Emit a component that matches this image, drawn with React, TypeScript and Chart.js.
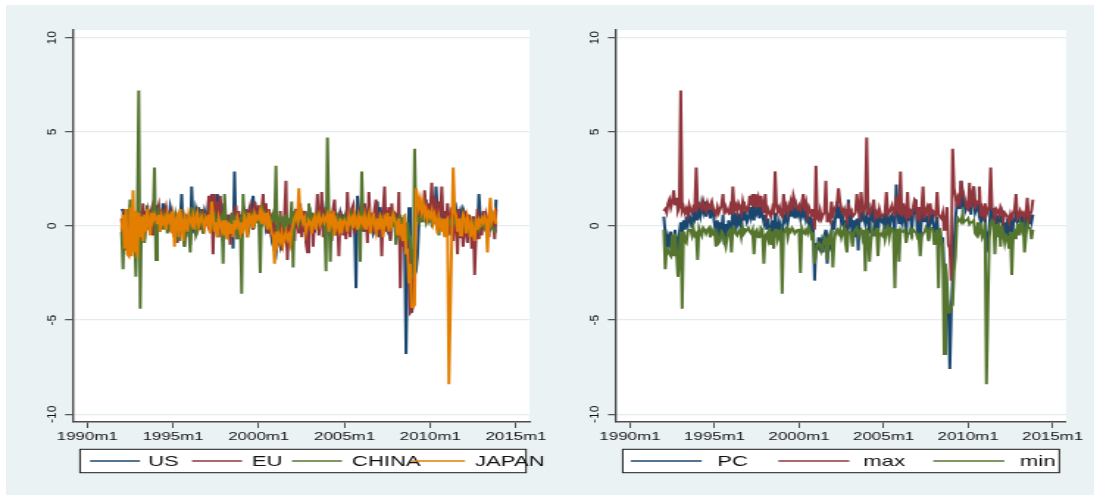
import React, { useEffect, useRef } from "react";
import { Chart, registerables } from "chart.js";

Chart.register(...registerables);

// ---------- data (monthly, first point = 1992m1; x = months since 1990m1) ----------
const FIRST_MONTH = 24;
const X_TICKS = [0, 60, 120, 180, 240, 300];
const X_TICK_LABELS = ["1990m1", "1995m1", "2000m1", "2005m1", "2010m1", "2015m1"];
const Y_TICKS = [-10, -5, 0, 5, 10];
const Y_TICK_LABELS = ["-10", "-5", "0", "5", "10"];
const LEFT_LABELS = ["US", "EU", "CHINA", "JAPAN"];
const RIGHT_LABELS = ["PC", "max", "min"];

const US = [
  0.9, 0.8, -0.6, 0.4, -0.9, 0.7, 0.2, -0.5, 0.8, 0.3, -0.4, 0.6,
  0.5, -0.3, 0.7, 0.2, 0.8, -0.2, 0.4, 0.6, -0.1, 0.9, 0.3, 1.2,
  0.6, 1.1, 0.2, 0.9, 0.4, 1.2, 0.1, 0.7, 0.5, 0.3, 1.0, 0.6,
  -0.3, 0.2, -0.5, 0.4, -0.8, 0.3, 1.7, -0.2, 0.5, -0.6, 0.4, 0.2,
  -1.0, 2.1, 0.3, -0.4, 0.9, 0.6, 1.0, -0.2, 0.7, 0.3, 0.8, 0.5,
  0.2, 1.4, 0.6, 0.1, 0.9, 1.1, 0.4, 1.7, 0.8, 0.5, 1.2, 0.3,
  0.7, 0.1, -0.3, 0.6, -0.6, 0.4, -1.2, 2.9, -0.2, 0.3, -0.5, 0.5,
  0.4, 0.2, 0.6, -0.1, 0.5, 0.8, 0.3, 0.7, 1.6, 0.4, 0.9, 0.5,
  0.2, 0.8, 0.6, 0.3, 0.5, -0.1, 0.2, -0.4, 0.1, -0.6, -0.2, -1.3,
  -1.5, -0.8, -0.6, -1.0, -0.4, -0.9, -0.3, -0.7, -1.1, -0.5, -0.8, -0.2,
  0.4, 0.3, 0.7, 0.5, 0.9, 0.2, 0.6, -0.3, 0.1, 0.4, -0.6, 0.3,
  0.6, -0.2, -0.4, -0.3, 0.1, 0.4, 0.8, 0.3, 0.5, 0.9, 0.2, 0.1,
  0.7, 0.3, -0.2, 0.8, 0.4, 0.9, -0.5, 0.6, 0.2, 0.7, 0.4, 0.5,
  0.2, 0.6, 0.4, -0.1, 0.3, 0.2, 0.8, 0.1, -3.3, 1.6, 0.9, 0.5,
  0.2, 0.4, -0.3, 0.6, -0.1, 0.5, 0.3, 0.2, -0.4, -0.2, 0.4, 1.3,
  -0.6, 1.0, 0.4, 0.2, 0.6, 0.3, -0.1, 0.4, -0.7, 0.5, 0.1, 0.2,
  -0.6, -0.3, -0.4, -1.0, -0.5, -1.1, -0.5, -6.8, -2.0, 1.0, -3.0, -4.6,
  -4.0, -2.6, -2.4, -1.6, 0.1, 0.6, 1.0, 1.2, 0.8, 1.4, 0.3, 0.9,
  0.7, 0.2, 0.9, 0.5, 2.1, 0.8, 0.4, 1.2, 0.3, -0.1, 0.4, 0.6,
  0.2, -0.4, 0.7, -0.3, 0.1, 0.6, 0.9, 0.3, 0.5, 0.8, 0.4, 0.9,
  0.7, -0.2, 0.6, -0.5, 0.3, -0.1, 0.5, -0.7, 0.2, -0.3, 1.7, 0.4,
  0.3, 0.6, 0.5, 0.2, -0.2, 0.4, 0.7, -0.1, 0.5, -0.4, 1.4,
];

const EU = [
  0.4, -0.8, 0.9, -1.3, 0.6, -1.0, 0.3, 1.0, -0.4, 0.7, -1.1, 0.5,
  -0.6, 0.8, -0.3, 1.2, -0.7, 0.4, 1.1, -0.2, 0.6, 0.9, -0.5, 1.0,
  0.3, 0.8, 1.1, 0.2, 0.9, -0.1, 0.7, 1.0, 0.4, -0.3, 0.6, 0.8,
  0.2, -0.6, 0.5, -0.9, 0.3, 0.7, -0.4, 0.1, -1.1, 0.6, -0.3, 0.4,
  -0.7, 0.9, 0.1, 0.6, -0.5, 0.8, -0.2, 0.5, 0.9, -0.4, 0.7, 0.3,
  0.1, 1.6, -0.3, 1.7, -1.5, 1.7, 0.4, 1.3, -0.6, 1.6, 0.2, -0.8,
  0.9, -0.4, 0.6, 0.2, -1.0, 0.7, -0.5, 0.3, 1.1, -0.7, 0.8, -0.2,
  -0.4, 0.5, 0.2, 0.9, -0.3, 0.6, 1.0, 0.4, -0.2, 1.3, 0.7, 0.5,
  1.1, -0.1, 0.8, 1.7, 0.3, 1.2, -0.4, 0.9, 0.5, -0.6, 0.7, -1.2,
  -0.3, 0.4, -0.9, 0.8, -1.3, -0.5, 0.6, 2.4, -1.8, 0.3, -1.0, -0.2,
  0.5, -0.8, 0.9, 0.2, -0.4, 1.2, -0.6, 0.4, 0.8, -0.9, -1.4, 0.6,
  -0.3, 0.7, -1.1, 0.4, 0.2, 1.7, -0.5, 0.3, 1.8, -0.6, 0.5, 1.0,
  -0.2, 0.6, 0.3, -0.8, 0.9, 1.4, -0.3, 0.5, -1.6, 0.8, 0.4, -0.5,
  0.3, -0.7, 1.8, 0.2, -0.6, 0.9, 1.1, -0.4, 0.6, -0.2, 0.8, 0.5,
  0.4, -0.3, 1.2, 0.6, -0.9, 1.8, 0.2, 0.7, -0.4, 0.9, 1.4, 0.3,
  -0.5, 0.6, -1.6, 0.8, 2.1, -0.3, 0.5, 1.0, -0.8, 1.2, 0.4, 0.7,
  0.6, -0.4, 1.8, -3.3, 0.4, -0.6, -1.0, -1.5, -0.8, -1.6, -4.6, -4.5,
  -3.0, -1.8, 1.5, 0.4, 1.0, 0.8, 1.3, 0.2, 1.9, 0.7, 1.2, 0.5,
  0.9, 2.3, 0.4, 1.6, 1.1, -0.2, 1.3, 0.6, 2.1, 0.3, 0.8, -0.4,
  1.2, 0.5, -0.5, 1.0, -0.8, 0.7, 0.3, -1.5, 0.9, -0.6, 0.4, -1.1,
  0.8, -0.3, -0.9, 0.6, 0.2, -1.2, 0.5, -2.6, -0.4, 0.9, -0.7, 0.3,
  -0.5, 0.8, -0.2, 0.6, 0.3, -0.6, 0.9, 0.1, 0.4, -0.7, 0.9,
];

const CHINA = [
  -0.3, -2.3, 0.5, -0.8, 0.9, 0.2, 1.4, -1.0, 0.6, -0.5, -2.7, 0.3,
  7.2, -4.4, 0.6, 0.2, -0.9, 0.4, 0.8, 0.1, -0.3, 0.5, 0.2, 3.1,
  -1.8, 0.4, 0.7, -0.3, 0.5, -0.2, 0.6, 0.4, -0.4, 0.5, 0.3, 0.2,
  0.4, -0.6, 0.6, 0.3, -0.8, 0.5, -0.1, 0.4, -1.1, 0.6, 0.1, -0.2,
  -1.4, 1.0, 0.2, 0.5, -0.5, -0.3, 0.4, 0.6, 0.1, -0.4, 0.5, 0.2,
  0.4, 0.1, 0.5, -0.2, 0.3, 0.6, 0.2, -0.6, 0.4, 0.3, 0.5, -2.0,
  1.7, 0.2, -0.7, 0.1, 0.3, -0.3, 0.5, 0.2, 0.4, -0.7, 0.1, 0.3,
  -3.6, 1.7, 0.3, 0.5, -0.6, -0.2, 0.4, 0.6, 0.3, 0.1, 0.5, 0.2,
  0.4, -2.5, 1.1, 0.3, 0.6, 0.2, 0.5, -0.1, 0.4, 0.3, 0.6, 0.2,
  3.2, -1.0, 0.2, 0.5, 0.3, 0.4, -0.2, 0.6, 0.1, 0.3, 0.2, 1.3,
  -2.2, 0.8, 0.3, 0.5, 0.1, 0.4, 0.6, 0.2, 0.3, 0.5, 0.2, 1.2,
  0.3, 0.5, 0.2, 0.4, 0.6, 0.1, 0.3, 0.5, 0.2, 0.4, 0.3, -2.4,
  4.7, 0.5, -1.9, 0.6, 0.2, 0.4, 0.3, 0.5, 0.1, 0.4, 0.2, 0.3,
  0.5, 0.2, 0.4, 0.3, 0.6, 0.1, 0.4, 0.2, 0.5, 0.3, 0.2, -1.9,
  2.9, 0.3, 0.5, 0.2, 0.4, 0.6, 0.1, 0.3, 0.5, 0.2, 0.4, 0.3,
  0.2, 0.5, 0.3, -0.4, 0.6, 0.2, 0.4, 0.1, 0.3, 0.5, 0.2, 0.4,
  -1.0, 0.3, 0.2, 0.6, -0.3, 0.4, 0.5, -0.8, 0.2, -0.5, -1.2, -1.5,
  -2.6, 4.1, 0.3, 0.4, 0.2, 0.5, 0.3, 0.4, 0.6, 0.2, 0.5, 0.3,
  0.4, 0.1, 0.3, 0.2, 0.4, 0.3, -0.5, 0.2, 0.3, 0.1, 0.2, 0.3,
  0.2, 0.1, 0.3, 0.2, 0.1, 0.3, 0.2, 0.0, 0.1, 0.3, 0.2, 0.1,
  0.0, 0.2, 0.1, -0.2, 0.1, 0.0, 0.2, -0.1, 0.1, 0.0, -0.2, 0.1,
  0.0, 0.1, -0.1, 0.2, 0.0, -0.2, 0.1, 0.0, -0.1, -0.3, -0.2,
];

const JAPAN = [
  -0.2, 0.6, -1.2, 0.9, -1.5, -1.6, 1.0, -1.6, 1.9, -1.4, 0.8, -1.7,
  0.7, -0.6, 0.5, -0.8, 0.6, -0.3, 0.9, 0.2, -0.5, 0.7, 0.3, 0.6,
  0.4, 0.1, 0.6, -0.3, 0.5, 0.2, 0.4, -0.2, 0.6, 0.3, 0.5, -0.4,
  0.8, -1.1, 0.3, 0.5, -0.6, 0.9, 0.1, -0.8, 0.5, 0.2, -0.3, 0.6,
  0.3, 0.1, 0.5, -0.2, 0.4, 0.7, 0.0, 0.3, 0.5, 0.2, -0.1, 0.4,
  0.2, 0.6, -0.4, 1.3, 0.5, -0.3, 0.2, -0.6, 0.4, 0.1, -0.2, 0.3,
  -0.5, 0.3, -0.7, 0.2, -0.4, 0.1, -0.6, 0.3, -0.2, 0.4, 0.1, -0.3,
  0.2, -0.4, 0.5, 0.3, -0.6, 0.7, 0.2, 0.4, -0.1, 0.6, 0.3, 0.5,
  0.4, 0.8, 0.1, 0.6, 0.3, 0.7, -0.2, 0.5, 0.2, -0.4, -0.5, -2.0,
  -0.3, -0.9, -0.5, -0.8, -0.4, -1.0, -0.6, -0.3, -0.7, -0.5, -0.9, -0.2,
  0.1, 0.4, 0.6, 0.3, 2.0, 0.5, 0.7, 0.2, 0.4, -0.3, 0.1, 0.3,
  0.2, -0.4, 0.3, 0.5, -0.2, 0.4, 0.6, 0.1, 0.3, 0.5, 0.2, 0.4,
  0.6, -0.3, 0.5, 0.2, 0.8, -0.5, 0.3, 0.1, -0.2, 0.4, -0.4, 0.2,
  0.3, 0.1, -0.3, 0.5, 0.2, 0.4, -0.1, 0.6, 0.3, -0.2, 0.5, 0.2,
  0.4, 0.1, 0.5, -0.2, 0.3, 0.6, -0.4, 0.2, 0.7, 0.1, -0.3, 0.4,
  -0.2, 0.5, 0.3, -0.6, 0.4, 0.2, 0.7, -0.3, 0.5, 0.1, 0.6, 0.3,
  0.2, -0.5, 0.4, -0.3, 0.1, -0.8, 0.6, -1.5, -1.2, -3.0, -2.0, -4.3,
  -4.3, -4.2, 2.0, 1.6, 1.0, 1.4, 0.8, 1.2, 0.6, 0.9, 0.4, 0.7,
  0.5, 0.8, 0.2, 0.6, 0.3, -0.4, 0.5, 0.2, -0.3, 0.4, -0.6, 0.3,
  0.4, -8.4, -4.5, -0.7, 3.1, 0.9, 0.5, -0.3, 0.4, -0.5, 0.2, 0.6,
  0.3, -0.4, 0.5, 0.2, -0.6, 0.1, -0.3, -0.8, 0.4, -0.2, 0.3, 0.1,
  0.4, 0.2, 0.5, 0.3, -1.4, 0.6, 1.5, 0.2, 0.4, 0.7, 0.1,
];

const PC = [
  0.5, -0.4, -1.5, -0.6, -0.9, -0.3, -1.1, -1.0, -0.2, -1.3, -0.8, -0.4,
  0.2, -0.5, 0.3, -0.2, 0.5, 0.1, 0.6, 0.3, -0.1, 0.7, 0.4, 0.8,
  0.3, 1.0, 0.6, 1.2, 0.8, 1.3, 0.5, 1.1, 0.9, 0.4, 1.2, 0.7,
  0.1, -0.4, 0.3, -0.7, 0.2, -0.3, 0.6, -1.0, 0.1, -0.5, 0.3, -0.2,
  -0.4, 1.1, 0.4, -0.3, 0.7, 0.2, 0.5, -0.1, 0.8, 0.3, 0.6, 0.2,
  0.4, 1.0, 0.5, 0.9, 0.3, 1.2, 0.7, 0.9, 0.4, 1.1, 0.6, 0.2,
  0.6, -0.2, 0.4, -0.5, -0.3, 0.3, -0.8, 0.7, 0.1, -0.4, 0.2, -0.1,
  -0.6, 0.5, 0.3, 0.8, 0.2, 0.6, 1.3, 0.5, 0.9, 0.4, 1.0, 0.6,
  0.8, 0.4, 1.0, 0.6, 0.9, 0.3, 0.5, 0.1, 0.4, -0.3, 0.2, -2.9,
  -0.9, -1.3, -0.6, -1.1, -0.8, -1.4, -0.5, -0.2, -2.0, -0.7, -1.0, -0.4,
  0.3, -0.2, 0.6, 1.3, 0.4, 0.8, 0.2, 0.5, -0.1, 0.3, -0.8, 1.4,
  0.2, 0.5, -0.9, 0.3, -0.6, 0.4, -1.3, 0.7, 0.2, 0.9, 0.4, 0.1,
  0.6, 0.3, -0.4, 0.8, 0.5, 1.0, -0.5, 0.6, -0.7, 0.7, 0.3, 0.2,
  0.4, -0.2, 1.1, 0.3, -0.3, 0.5, 0.6, 0.2, -0.4, 2.2, 0.8, 0.1,
  0.7, 0.2, 0.6, 0.3, -0.6, 1.0, 0.4, 0.5, -0.2, 0.6, 0.8, 1.4,
  -0.5, 0.8, -0.6, 0.4, 1.2, 0.2, 0.6, 0.4, -0.7, 0.8, 0.3, 0.5,
  -0.4, -0.3, 0.5, -1.2, -0.2, -1.0, -0.6, -2.4, -2.2, -3.8, -4.4, -7.6,
  -4.7, -2.8, -1.0, 0.4, 1.15, 1.3, 0.9, 2.4, 1.2, 1.5, 0.8, 1.0,
  1.1, 1.8, 0.6, 1.4, 2.1, 0.7, 0.9, 1.3, 0.5, 0.2, 0.6, 0.4,
  0.8, -1.4, -0.6, -0.2, 1.1, 0.5, 0.7, -0.3, 0.6, -0.2, 0.4, 0.3,
  0.6, -0.3, 0.2, -0.5, 0.4, -0.6, 0.5, -1.2, 0.1, 0.3, 0.7, 0.2,
  0.3, 0.5, 0.2, 0.6, -0.4, 0.7, 0.9, 0.1, 0.5, 0.2, 0.6,
];

const MAX = [
  0.8, 0.9, 0.7, 1.2, 1.4, 1.0, 1.3, 1.9, 1.1, 1.5, 0.8, 1.0,
  7.2, 0.8, 1.0, 0.7, 0.9, 0.6, 1.1, 0.8, 0.7, 1.0, 0.9, 3.1,
  1.0, 1.2, 1.1, 0.9, 1.3, 1.0, 0.8, 1.2, 0.9, 1.1, 1.3, 0.9,
  0.8, 0.6, 1.0, 0.7, 0.9, 1.1, 1.7, 0.6, 1.0, 0.8, 0.7, 1.0,
  0.6, 2.1, 0.9, 1.1, 0.8, 1.2, 1.0, 0.7, 1.3, 0.9, 1.0, 0.8,
  0.9, 1.6, 1.1, 1.7, 1.0, 1.7, 1.2, 1.5, 1.0, 1.6, 1.1, 0.7,
  1.7, 0.6, 0.9, 0.7, 0.5, 0.9, 0.6, 2.9, 1.1, 0.8, 1.0, 0.6,
  0.5, 1.7, 0.9, 1.1, 0.7, 1.0, 1.3, 0.8, 1.6, 1.3, 1.0, 0.9,
  1.1, 0.9, 1.2, 1.7, 0.8, 1.2, 0.6, 1.0, 0.8, 0.5, 0.9, -0.2,
  3.2, 0.4, 0.3, 0.8, 0.4, 0.6, 0.7, 2.4, 0.2, 0.5, 0.3, 1.3,
  0.6, 0.9, 1.0, 1.2, 2.0, 1.3, 0.9, 0.7, 0.9, 0.6, 0.3, 1.2,
  0.7, 0.8, 0.5, 0.6, 0.7, 1.7, 0.9, 0.6, 1.8, 1.0, 0.7, 1.0,
  4.7, 0.7, 0.6, 0.9, 1.0, 1.4, 0.5, 0.7, 0.4, 0.9, 0.6, 0.5,
  0.6, 0.7, 1.8, 0.6, 0.7, 0.9, 1.1, 0.7, 0.6, 1.6, 0.9, 0.6,
  2.9, 0.5, 1.2, 0.7, 0.5, 1.8, 0.4, 0.8, 0.7, 1.0, 1.4, 1.3,
  0.3, 1.0, 0.5, 0.9, 2.1, 0.4, 0.8, 1.0, 0.6, 1.2, 0.7, 0.8,
  0.7, 0.5, 1.8, 0.6, 0.5, 0.4, 0.7, -0.2, 0.3, 1.0, -1.0, -1.2,
  -2.9, 4.1, 2.0, 1.6, 1.0, 1.5, 1.3, 2.4, 1.9, 1.5, 1.3, 1.0,
  0.9, 2.3, 1.0, 1.6, 2.1, 0.9, 1.3, 1.2, 2.1, 0.5, 0.9, 0.6,
  1.2, 0.6, 0.8, 1.1, 3.1, 0.9, 0.9, 0.4, 0.9, 0.8, 0.6, 1.0,
  0.8, 0.3, 0.7, 0.6, 0.5, 0.2, 0.6, 0.3, 0.7, 0.9, 1.7, 0.4,
  0.5, 0.8, 0.6, 0.7, 0.4, 0.6, 1.5, 0.3, 0.6, 0.8, 1.4,
];

const MIN = [
  -0.2, -2.3, -1.2, -1.3, -1.5, -1.6, -0.5, -1.6, -0.4, -1.4, -2.7, -1.7,
  -0.3, -4.4, -0.3, -0.8, -0.9, -0.3, -0.2, -0.2, -0.5, -0.1, -0.5, -0.4,
  -1.8, -0.1, -0.3, -0.5, -0.1, -0.2, -0.4, -0.2, -0.1, -0.6, -0.2, -0.4,
  -0.3, -1.1, -0.5, -0.9, -0.8, -0.3, -0.4, -0.8, -1.1, -0.6, -0.3, -0.2,
  -1.4, -0.2, -0.1, -0.4, -0.5, -0.3, -0.2, -0.6, -0.1, -0.4, -0.3, -0.2,
  -0.1, -0.3, -0.4, -0.2, -1.5, -0.3, -0.2, -0.6, -0.6, -0.1, -0.2, -2.0,
  -0.5, -0.4, -0.7, -0.1, -1.0, -0.3, -1.2, -0.2, -0.2, -0.7, -0.5, -0.3,
  -3.6, -0.4, -0.2, -0.1, -0.6, -0.2, -0.3, -0.1, -0.2, -0.4, -0.3, -0.2,
  -0.2, -2.5, -0.1, -0.3, -0.4, -0.2, -0.4, -0.1, -0.3, -0.6, -0.5, -2.0,
  -1.5, -1.0, -0.9, -1.0, -1.3, -1.0, -0.6, -0.7, -1.8, -0.5, -1.0, -0.2,
  -2.2, -0.8, -0.3, -0.2, -0.4, -0.2, -0.6, -0.3, -0.1, -0.9, -1.4, -0.3,
  -0.3, -0.4, -1.1, -0.3, -0.2, -0.1, -0.5, -0.3, -0.2, -0.6, -0.2, -2.4,
  -0.2, -0.3, -1.9, -0.8, -0.2, -0.5, -0.5, -0.1, -1.6, -0.4, -0.4, -0.5,
  -0.2, -0.7, -0.3, -0.1, -0.6, -0.1, -0.1, -0.4, -3.3, -0.2, -0.2, -1.9,
  -0.2, -0.3, -0.3, -0.2, -0.9, -0.5, -0.4, -0.2, -0.4, -0.2, -0.3, -0.3,
  -0.6, -0.5, -1.6, -0.6, -0.4, -0.3, -0.1, -0.3, -0.8, -0.1, -0.1, -0.2,
  -1.0, -0.5, -0.2, -3.3, -0.1, -0.8, -1.0, -6.8, -2.0, -3.0, -4.6, -4.6,
  -4.3, -4.2, -2.4, -1.6, 0.1, 0.4, 0.3, 0.2, 0.6, 0.2, 0.3, 0.3,
  0.4, 0.1, 0.2, 0.2, 0.3, -0.4, -0.5, 0.2, -0.3, -0.1, -0.6, -0.4,
  0.2, -8.4, -4.5, -0.7, 0.1, 0.3, 0.2, -1.5, 0.1, -0.6, 0.2, -1.1,
  0.0, -0.4, -0.9, -0.5, -0.6, -1.2, -0.3, -2.6, -0.4, -0.3, -0.7, 0.1,
  -0.5, 0.1, -0.2, 0.2, -1.4, -0.6, 0.1, -0.1, -0.1, -0.7, -0.2,
];

// ---------- styling / layout (screen pixels) ----------
const NAVY = "#1a476f";
const MAROON = "#90353b";
const GREEN = "#55752f";
const ORANGE = "#e37e00";
const OUTER_BG = "#eaf2f3";
const GRID = "#e3ecee";
const AXIS = "#4d4d4d";
const TEXT = "#111111";
const FONT = '"Liberation Sans", Arial, Helvetica, sans-serif';

const CSS_W = 550;
const CSS_H = 500;
const CANVAS_W = 374; // canvas is stretched horizontally, like the Stata export
const SX = CSS_W / CANVAS_W;
const PLOT_TOP = 30;
const PLOT_BOTTOM = 422;
const X_MIN = -10;
const X_MAX = 309.5;
const Y_LIM = 10.41;

type LegendItem = { x0: number; x1: number; tx: number };
type PanelSpec = {
  offset: number;
  plotLeft: number;
  plotRight: number;
  yLabelX: number;
  legendBox: [number, number, number, number];
  legendItems: LegendItem[];
  labels: string[];
  series: number[][];
  colors: string[];
};

const LEFT_PANEL: PanelSpec = {
  offset: 0,
  plotLeft: 73,
  plotRight: 535,
  yLabelX: 52.5,
  legendBox: [80, 449.3, 526, 472.7],
  legendItems: [
    { x0: 90, x1: 140, tx: 148 },
    { x0: 192, x1: 242, tx: 252 },
    { x0: 292, x1: 342, tx: 352 },
    { x0: 412, x1: 465, tx: 475 },
  ],
  labels: LEFT_LABELS,
  series: [US, EU, CHINA, JAPAN],
  colors: [NAVY, MAROON, GREEN, ORANGE],
};

const RIGHT_PANEL: PanelSpec = {
  offset: 550,
  plotLeft: 615.9,
  plotRight: 1066,
  yLabelX: 595,
  legendBox: [622.7, 449.3, 1059.3, 472.7],
  legendItems: [
    { x0: 630.7, x1: 701.7, tx: 717.3 },
    { x0: 778.3, x1: 849.3, tx: 863.3 },
    { x0: 933.3, x1: 1004.3, tx: 1020 },
  ],
  labels: RIGHT_LABELS,
  series: [PC, MAX, MIN],
  colors: [NAVY, MAROON, GREEN],
};

function Panel({ spec }: { spec: PanelSpec }) {
  const ref = useRef<HTMLCanvasElement>(null);

  useEffect(() => {
    const canvas = ref.current;
    if (!canvas) return;
    const cx = (sx: number) => (sx - spec.offset) / SX;
    const left = cx(spec.plotLeft);
    const right = cx(spec.plotRight);
    const n = spec.series.length;

    const decor = {
      id: "stataDecor",
      beforeDraw(chart: any) {
        const { ctx, chartArea: a } = chart;
        ctx.save();
        ctx.fillStyle = "#ffffff";
        ctx.fillRect(a.left, a.top, a.right - a.left, a.bottom - a.top);
        ctx.restore();
      },
      afterDraw(chart: any) {
        const ctx = chart.ctx as CanvasRenderingContext2D;
        const ys = chart.scales.y;
        // rotated y tick labels (undo the horizontal stretch for them)
        ctx.save();
        ctx.fillStyle = TEXT;
        ctx.font = `12px ${FONT}`;
        ctx.textAlign = "center";
        ctx.textBaseline = "middle";
        Y_TICKS.forEach((v, i) => {
          const y = ys.getPixelForValue(v);
          ctx.save();
          ctx.translate(cx(spec.yLabelX), y);
          ctx.scale(1 / SX, 1);
          ctx.rotate(-Math.PI / 2);
          ctx.fillText(Y_TICK_LABELS[i], 0, 0);
          ctx.restore();
        });
        ctx.restore();

        // legend
        const [bx0, by0, bx1, by1] = spec.legendBox;
        ctx.save();
        ctx.fillStyle = "#ffffff";
        ctx.fillRect(cx(bx0), by0, cx(bx1) - cx(bx0), by1 - by0);
        ctx.strokeStyle = "#1a1a1a";
        ctx.lineWidth = 1;
        ctx.strokeRect(cx(bx0), by0, cx(bx1) - cx(bx0), by1 - by0);
        const ly = (by0 + by1) / 2;
        chart.data.datasets.forEach((ds: any, i: number) => {
          const it = spec.legendItems[i];
          ctx.strokeStyle = ds.borderColor;
          ctx.lineWidth = 1.6;
          ctx.beginPath();
          ctx.moveTo(cx(it.x0), ly);
          ctx.lineTo(cx(it.x1), ly);
          ctx.stroke();
          ctx.fillStyle = TEXT;
          ctx.font = `15px ${FONT}`;
          ctx.textAlign = "left";
          ctx.textBaseline = "alphabetic";
          ctx.fillText(ds.label, cx(it.tx), ly + 5.4);
        });
        ctx.restore();
      },
    };

    const datasets = spec.series.map((vals, i) => ({
      label: spec.labels[i],
      data: vals.map((y, k) => ({ x: FIRST_MONTH + k, y })),
      borderColor: spec.colors[i],
      backgroundColor: spec.colors[i],
      borderWidth: 2,
      pointRadius: 0,
      pointHoverRadius: 0,
      tension: 0,
      fill: false,
      order: n - 1 - i,
    }));

    const chart = new Chart(canvas, {
      type: "line",
      data: { datasets },
      options: {
        animation: false,
        responsive: false,
        devicePixelRatio: 1,
        events: [],
        layout: { padding: { left: 0, top: PLOT_TOP, right: CANVAS_W - right, bottom: 0 } },
        plugins: { legend: { display: false }, tooltip: { enabled: false } },
        scales: {
          x: {
            type: "linear",
            min: X_MIN,
            max: X_MAX,
            afterBuildTicks: (s: any) => {
              s.ticks = X_TICKS.map((v) => ({ value: v }));
            },
            afterFit: (s: any) => {
              s.height = CSS_H - PLOT_BOTTOM;
            },
            ticks: {
              autoSkip: false,
              maxRotation: 0,
              minRotation: 0,
              padding: 2,
              color: TEXT,
              font: { family: FONT, size: 11.5 },
              callback: (v: any) => {
                const idx = X_TICKS.indexOf(Number(v));
                return idx >= 0 ? X_TICK_LABELS[idx] : "";
              },
            },
            grid: {
              drawOnChartArea: false,
              drawTicks: true,
              tickLength: 6,
              tickColor: AXIS,
              tickWidth: 1,
            },
            border: { display: true, color: AXIS, width: 1.6 },
          },
          y: {
            type: "linear",
            min: -Y_LIM,
            max: Y_LIM,
            afterBuildTicks: (s: any) => {
              s.ticks = Y_TICKS.map((v) => ({ value: v }));
            },
            afterFit: (s: any) => {
              s.width = left;
            },
            ticks: { display: false },
            grid: {
              color: GRID,
              lineWidth: 1.3,
              drawTicks: true,
              tickLength: 5.4,
              tickColor: AXIS,
              tickWidth: 1.2,
            },
            border: { display: true, color: AXIS, width: 1.4 },
          },
        },
      },
      plugins: [decor],
    } as any);

    return () => chart.destroy();
  }, [spec]);

  return (
    <canvas
      ref={ref}
      width={CANVAS_W}
      height={CSS_H}
      style={{
        position: "absolute",
        left: spec.offset,
        top: 0,
        width: CSS_W,
        height: CSS_H,
      }}
    />
  );
}

export default function App() {
  return (
    <div
      style={{
        position: "absolute",
        left: 0,
        top: 0,
        width: 1100,
        height: 500,
        background: "#ffffff",
        overflow: "hidden",
      }}
    >
      <div
        style={{
          position: "absolute",
          left: 6,
          top: 5,
          width: 1088,
          height: 490,
          background: OUTER_BG,
        }}
      />
      <Panel spec={LEFT_PANEL} />
      <Panel spec={RIGHT_PANEL} />
    </div>
  );
}
